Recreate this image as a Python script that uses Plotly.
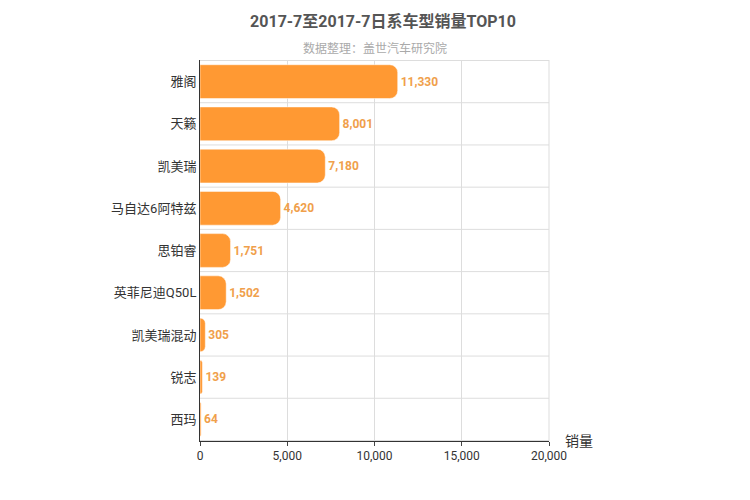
import plotly.graph_objects as go

models = ['雅阁', '天籁', '凯美瑞', '马自达6阿特兹', '思铂睿', '英菲尼迪Q50L', '凯美瑞混动', '锐志', '西玛']
sales = [11330, 8001, 7180, 4620, 1751, 1502, 305, 139, 64]
ORANGE = '#ff9933'
FONT = 'Roboto, "Noto Sans CJK SC", sans-serif'

fig = go.Figure()
fig.add_bar(y=models, x=sales, orientation='h', marker=dict(color=ORANGE, cornerradius=8),
            width=0.8, text=[f'<b>{v:,}</b>' for v in sales], textposition='outside',
            textfont=dict(color='#f0a04b', size=12), cliponaxis=False)

fig.update_layout(
    width=750, height=500, template='plotly_white', showlegend=False,
    font=dict(family=FONT, size=12, color='#333'),
    margin=dict(l=192, r=209, t=52, b=67),
    title=dict(text='<b>2017-7至2017-7日系车型销量TOP10</b>', x=0.5, xanchor='center', y=0.985,
               font=dict(size=16, color='#555')),
    xaxis=dict(range=[0, 20000], tickvals=[0, 5000, 10000, 15000, 20000], tickformat=',',
               showline=True, linecolor='#333', gridcolor='#ddd', ticks='outside', ticklen=4, zeroline=False),
    yaxis=dict(autorange='reversed', showline=True, linecolor='#333', showgrid=False,
               ticks='', ticklen=4, tickfont=dict(size=13)),
)
for i in range(len(models) + 1):
    fig.add_shape(type='line', xref='x domain', yref='y', x0=0, x1=1, y0=i - 0.5, y1=i - 0.5,
                  line=dict(color='#ddd', width=1), layer='below')
fig.add_shape(type='line', xref='x domain', yref='paper', x0=1, x1=1, y0=0, y1=1,
              line=dict(color='#ddd', width=1), layer='below')
fig.add_annotation(text='数据整理：盖世汽车研究院', xref='paper', yref='paper', x=0.5, y=1.055,
                   showarrow=False, font=dict(size=12, color='#aaa'))
fig.add_annotation(text='销量', xref='paper', yref='paper', x=1.04, y=0, yanchor='middle',
                   xanchor='left', showarrow=False, font=dict(size=14, color='#333'))
fig.write_html('out.html')
